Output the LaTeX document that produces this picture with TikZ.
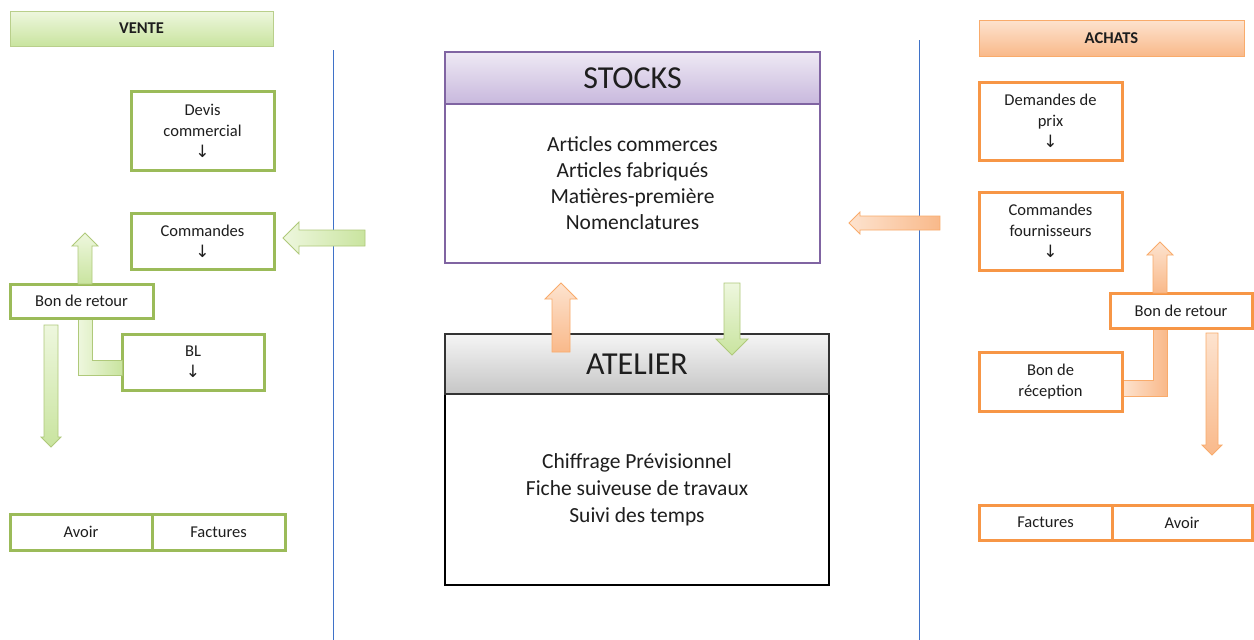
\documentclass[tikz,border=0pt]{standalone}
\usepackage{fontspec}
\setmainfont{Carlito}
\newfontfamily\symf{DejaVu Sans}
\definecolor{gbord}{HTML}{9BBB59}
\definecolor{gfillA}{HTML}{EEF7DE}
\definecolor{gfillB}{HTML}{C9E49F}
\definecolor{obord}{HTML}{F79646}
\definecolor{ofillA}{HTML}{FDE3CF}
\definecolor{ofillB}{HTML}{F9B98A}
\definecolor{pbord}{HTML}{8064A2}
\definecolor{pfillA}{HTML}{EEE9F4}
\definecolor{pfillB}{HTML}{C8B8DD}
\definecolor{vline}{HTML}{3F72C8}
\definecolor{txt}{HTML}{1E1E1E}
\newcommand{\myup}[6]{% cx, ybottom, ytip, halfbody, halfhead, style
  \path[#6] ({#1-#4},#2) -- ({#1-#4},{#3+#5}) -- ({#1-#5},{#3+#5}) -- (#1,#3) -- ({#1+#5},{#3+#5}) -- ({#1+#4},{#3+#5}) -- ({#1+#4},#2) -- cycle;}
\newcommand{\mydown}[6]{% cx, ytop, ytip, halfbody, halfhead, style
  \path[#6] ({#1-#4},#2) -- ({#1-#4},{#3-#5}) -- ({#1-#5},{#3-#5}) -- (#1,#3) -- ({#1+#5},{#3-#5}) -- ({#1+#4},{#3-#5}) -- ({#1+#4},#2) -- cycle;}
\newcommand{\myleft}[6]{% cy, xright, xtip, halfbody, halfhead, style
  \path[#6] (#2,{#1-#4}) -- ({#3+#5},{#1-#4}) -- ({#3+#5},{#1-#5}) -- (#3,#1) -- ({#3+#5},{#1+#5}) -- ({#3+#5},{#1+#4}) -- (#2,{#1+#4}) -- cycle;}
\newcommand{\dn}{{\symf\fontsize{17}{21}\selectfont ↓}}
\tikzset{
  gbox/.style={draw=gbord, line width=3pt, fill=white, rectangle, align=center, text=txt,
    font=\fontsize{16.5}{21}\selectfont, inner sep=1pt},
  obox/.style={gbox, draw=obord},
  ghead/.style={draw=gbord!70, line width=1pt, top color=gfillA, bottom color=gfillB, text=txt,
    font=\fontsize{16.5}{18}\selectfont\bfseries},
  ohead/.style={draw=obord!80, line width=1pt, top color=ofillA, bottom color=ofillB, text=txt,
    font=\fontsize{16.5}{18}\selectfont\bfseries},
  garrow/.style={draw=gbord!80, line width=0.8pt, top color=gfillA, bottom color=gfillB},
  garrowh/.style={draw=gbord!80, line width=0.8pt, left color=gfillA, right color=gfillB},
  oarrow/.style={draw=obord!80, line width=0.8pt, top color=ofillA, bottom color=ofillB},
  oarrowh/.style={draw=obord!80, line width=0.8pt, left color=ofillA, right color=ofillB},
  sep/.style={draw=vline, line width=1.1pt},
}
\begin{document}
\begin{tikzpicture}[x=1pt,y=-1pt]
\useasboundingbox (0,0) rectangle (1254,640);
\fill[white] (0,0) rectangle (1254,640);

% separators
\coordinate (s1a) at (333.5,50); \coordinate (s1b) at (333.5,640);
\coordinate (s2a) at (919.5,40); \coordinate (s2b) at (919.5,640);
\draw[sep] (s1a) -- (s1b);
\draw[sep] (s2a) -- (s2b);

% ---------------- VENTE ----------------
\node[ghead, minimum width=263pt, minimum height=35pt] (vente) at (141.5,28.5) {VENTE};
\node[gbox, minimum width=143pt, minimum height=79pt] (devis) at (202.5,130.5) {Devis\\commercial\\\dn};
\node[gbox, minimum width=143pt, minimum height=56pt] (cmdv) at (202.5,241) {Commandes\\\dn};
\node[gbox, minimum width=142pt, minimum height=56pt] (bl) at (193,362) {BL\\\dn};

% L connector Bon de retour -> BL
\path[garrowh] (78,318) -- (78,375) -- (122,375) -- (122,360) -- (92,360) -- (92,318) -- cycle;
\node[gbox, minimum width=143pt, minimum height=34pt] (bretv) at (81.5,301) {Bon de retour};
\myup{85}{284}{233}{7}{13}{garrow}
\mydown{51}{325}{447}{7}{10}{garrow}
\node[gbox, minimum width=142pt, minimum height=36pt] (avoirv) at (81,532) {Avoir};
\node[gbox, minimum width=133pt, minimum height=36pt] (factv) at (218.5,532) {Factures};

% green arrow to Commandes
\myleft{238}{365}{283}{8}{16}{garrowh}

% ---------------- STOCKS ----------------
\node[draw=pbord, line width=2.5pt, fill=white, minimum width=375pt, minimum height=159pt, align=center, text=txt,
  font=\fontsize{21.5}{26}\selectfont] (stockb) at (632.5,183.5)
  {Articles commerces\\Articles fabriqués\\Matières-première\\Nomenclatures};
\node[draw=pbord, line width=1.5pt, top color=pfillA, bottom color=pfillB, minimum width=375pt, minimum height=52pt,
  text=txt, font=\fontsize{32}{34}\selectfont] (stockh) at (632.5,78) {STOCKS};

% ---------------- ATELIER ----------------
\node[draw=black, line width=2.5pt, fill=white, minimum width=384pt, minimum height=191pt, align=center, text=txt,
  font=\fontsize{21.5}{27}\selectfont] (atb) at (637,489.5)
  {Chiffrage Prévisionnel\\Fiche suiveuse de travaux\\Suivi des temps};
\node[draw=black!80, line width=1.5pt, top color=gray!8, bottom color=gray!45, minimum width=384pt, minimum height=60pt,
  text=txt, font=\fontsize{32}{34}\selectfont] (ath) at (637,364) {ATELIER};

\myup{561}{352}{283}{9}{16}{oarrow}
\mydown{732}{283}{355}{8}{16}{garrow}

% ---------------- ACHATS ----------------
\node[ohead, minimum width=265pt, minimum height=36pt] (achats) at (1111.5,38) {ACHATS};
\node[obox, minimum width=143pt, minimum height=78pt] (dprix) at (1050.5,121) {Demandes de\\prix\\\dn};
\node[obox, minimum width=143pt, minimum height=78pt] (cmdf) at (1050.5,231) {Commandes\\fournisseurs\\\dn};
\path[oarrowh] (1153,328) -- (1153,380) -- (1122,380) -- (1122,396) -- (1167,396) -- (1167,328) -- cycle;
\node[obox, minimum width=143pt, minimum height=59pt] (brec) at (1050.5,381.5) {Bon de\\réception};
\node[obox, minimum width=142pt, minimum height=35pt] (breta) at (1181,310.5) {Bon de retour};
\myup{1160}{293}{242}{7}{13}{oarrow}
\mydown{1212}{333}{455}{6}{10}{oarrow}
\node[obox, minimum width=133pt, minimum height=35pt] (facta) at (1045.5,522.5) {Factures};
\node[obox, minimum width=140pt, minimum height=35pt] (avoira) at (1182,522.5) {Avoir};

\myleft{223}{940}{849}{7}{11}{oarrowh}
\end{tikzpicture}
\end{document}
